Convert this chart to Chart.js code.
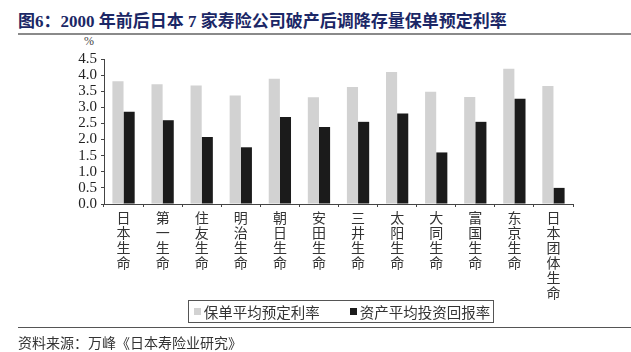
<!DOCTYPE html>
<html>
<head>
<meta charset="utf-8">
<script src="https://cdn.jsdelivr.net/npm/chart.js@4/dist/chart.umd.min.js"></script>
<style>
  html, body { margin: 0; padding: 0; background: #fff; }
  body { width: 631px; height: 352px; position: relative; overflow: hidden; }
  #title { position: absolute; left: 18px; top: 7px; font: bold 17px "Liberation Serif", "Noto Sans CJK SC", serif; color: #1b2766; white-space: nowrap; }
  #rule1 { position: absolute; left: 18px; top: 33px; width: 613px; height: 2px; background: #8a8a8a; }
  #rule2 { position: absolute; left: 18px; top: 327px; width: 613px; height: 1px; background: #555; }
  #source { position: absolute; left: 18px; top: 332px; font: 14px "Noto Sans CJK SC", sans-serif; color: #333; white-space: nowrap; }
  #unit { position: absolute; left: 84px; top: 34px; font: 12px "Liberation Serif", serif; color: #444; }
  #c { position: absolute; left: 0; top: 0; }
</style>
</head>
<body>
<div id="title">图6：2000 年前后日本 7 家寿险公司破产后调降存量保单预定利率</div>
<div id="rule1"></div>
<div id="unit">%</div>
<canvas id="c" width="631" height="352"></canvas>
<div id="rule2"></div>
<div id="source">资料来源：万峰《日本寿险业研究》</div>
<script>
// ---- data ----
const companies = ['日本生命','第一生命','住友生命','明治生命','朝日生命','安田生命','三井生命','太阳生命','大同生命','富国生命','东京生命','日本团体生命'];
const policyRate = [3.81, 3.72, 3.68, 3.37, 3.89, 3.31, 3.63, 4.10, 3.48, 3.32, 4.20, 3.66];
const assetReturn = [2.86, 2.60, 2.08, 1.76, 2.70, 2.39, 2.55, 2.81, 1.60, 2.55, 3.27, 0.50];
const seriesNames = ['保单平均预定利率', '资产平均投资回报率'];
const yMin = 0, yMax = 4.5, yStep = 0.5;

// legend drawn from the chart's own datasets, inside a bordered box
const boxedLegend = {
  id: 'boxedLegend',
  afterDraw(chart) {
    const ctx = chart.ctx;
    const ca = chart.chartArea;
    const font = '14.5px "Noto Sans CJK SC", sans-serif';
    ctx.save();
    ctx.font = font;
    const sw = 7, gapText = 3, gapItem = 30;
    const items = chart.data.datasets.map(d => ({ text: d.label, color: d.backgroundColor, w: ctx.measureText(d.label).width }));
    let total = 0;
    items.forEach((it, i) => { total += sw + gapText + it.w + (i < items.length - 1 ? gapItem : 0); });
    const cx = (ca.left + ca.right) / 2 + 3.5;
    let x = cx - total / 2;
    const yc = 311;
    const bx0 = Math.round(x - 6) + 0.5;
    const bx1 = Math.round(x + total + 3) + 0.5;
    ctx.strokeStyle = '#555';
    ctx.lineWidth = 1;
    ctx.strokeRect(bx0, 300.5, bx1 - bx0, 22);
    ctx.textBaseline = 'middle';
    ctx.textAlign = 'left';
    items.forEach((it, i) => {
      ctx.fillStyle = it.color;
      ctx.fillRect(Math.round(x), Math.round(yc - sw / 2), sw, sw);
      x += sw + gapText;
      ctx.fillStyle = '#333';
      ctx.fillText(it.text, x, yc + 1);
      x += it.w + gapItem;
    });
    ctx.restore();
  }
};

new Chart(document.getElementById('c'), {
  type: 'bar',
  data: {
    labels: companies.map(s => s.split('')),
    datasets: [
      { label: seriesNames[0], data: policyRate, backgroundColor: '#d2d2d2', borderWidth: 0 },
      { label: seriesNames[1], data: assetReturn, backgroundColor: '#1b1b1b', borderWidth: 0 }
    ]
  },
  options: {
    responsive: false,
    animation: false,
    devicePixelRatio: 1,
    layout: { padding: { left: 74, right: 58, top: 59, bottom: 52 } },
    datasets: { bar: { categoryPercentage: 0.57, barPercentage: 1.0 } },
    plugins: {
      title: { display: false },
      tooltip: { enabled: false },
      legend: { display: false }
    },
    scales: {
      x: {
        afterFit(s) { s.height = 96; },
        border: { color: '#444', width: 1 },
        grid: { display: true, drawOnChartArea: false, offset: true, tickLength: 3, color: '#444' },
        ticks: {
          autoSkip: false, maxRotation: 0, minRotation: 0, padding: 3,
          color: '#333',
          font: { family: '"Noto Sans CJK SC", sans-serif', size: 14, lineHeight: 1.08 }
        }
      },
      y: {
        min: yMin, max: yMax,
        afterFit(s) { s.width = 30; },
        border: { color: '#444', width: 1 },
        grid: { display: true, drawOnChartArea: false, tickLength: 3, color: '#444' },
        ticks: {
          stepSize: yStep, autoSkip: false, padding: 4, color: '#222',
          font: { family: '"Liberation Serif", serif', size: 15 },
          callback: v => Number(v).toFixed(1)
        }
      }
    }
  },
  plugins: [boxedLegend]
});
</script>
</body>
</html>
